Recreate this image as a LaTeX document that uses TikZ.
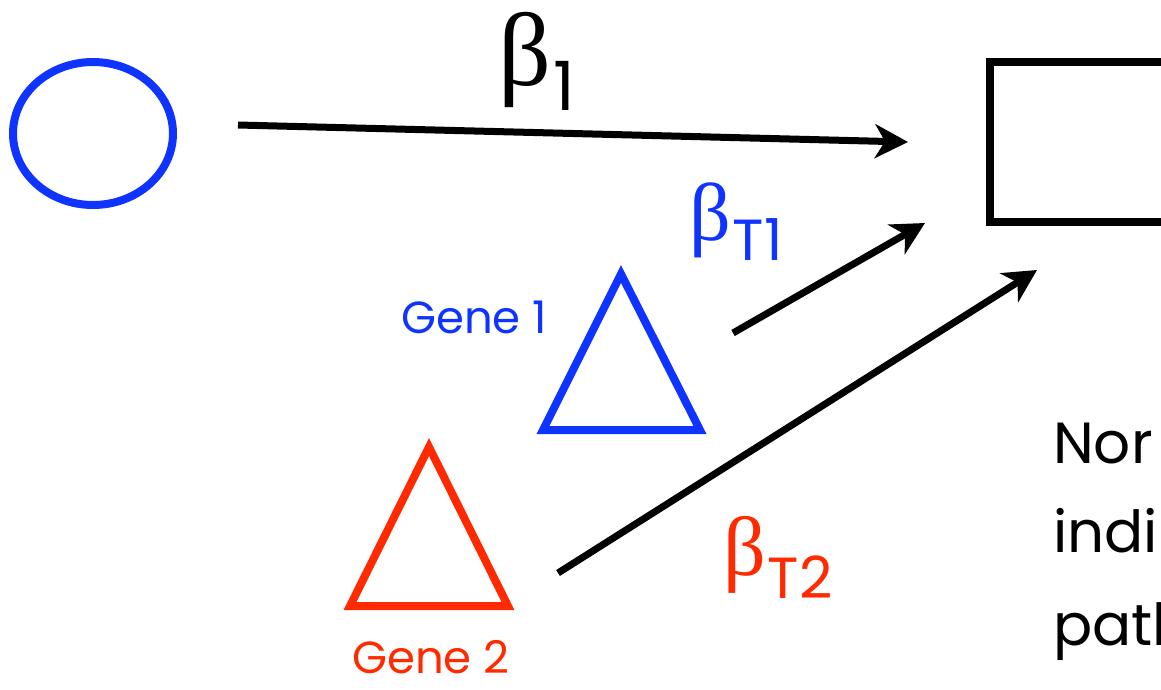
\documentclass[tikz,border=0pt]{standalone}
\usepackage{fontspec}
\setmainfont{Poppins}
\newfontfamily\grk{Liberation Serif}
\usetikzlibrary{arrows.meta}
\definecolor{gblue}{RGB}{16,52,255}
\definecolor{gred}{RGB}{255,42,0}
\tikzset{
  conn/.style={line width=7pt, -{Stealth[length=33pt,width=34pt,inset=10pt]}},
  shapeline/.style={line width=8pt, miter limit=10},
  lbl/.style={inner sep=0pt, anchor=base west},
}
\newcommand{\bsub}[4]{{\grk\fontsize{#1}{#1}\selectfont β}\kern 2pt\raisebox{-#3pt}{\fontsize{#2}{#2}\selectfont #4}}
\begin{document}
\begin{tikzpicture}[x=1pt,y=-1pt]
\useasboundingbox (0,0) rectangle (1161,689);
\clip (0,0) rectangle (1161,689);
% shapes
\draw[gblue, shapeline] (93,133.5) ellipse [x radius=80, y radius=71.5];
\node (circ) at (93,133.5) {};
\draw[shapeline, line width=8pt] (989.5,62) rectangle (1250,222);
\node (rect) at (1070,142) {};
\draw[gblue, shapeline] (621,274) -- (543,430) -- (700,430) -- cycle;
\node (tri1) at (621,380) {};
\draw[gred, shapeline] (429,447) -- (350,606) -- (508,606) -- cycle;
\node (tri2) at (429,555) {};
% connector ends
\coordinate (a1s) at (238,125);
\coordinate (a1e) at (908,142);
\coordinate (a2s) at (733,333);
\coordinate (a2e) at (925,223);
\coordinate (a3s) at (558,573);
\coordinate (a3e) at (1037,270);
\draw[conn] (a1s) -- (a1e);
\draw[conn] (a2s) -- (a2e);
\draw[conn] (a3s) -- (a3e);
% labels
\node[lbl] (b1) at (498,85) {\bsub{104}{68}{25}{1}};
\node[lbl, text=gblue] (bt1) at (689,240) {\bsub{82}{58}{20}{T1}};
\node[lbl, text=gred] (bt2) at (723,575) {\bsub{84}{58}{23}{T2}};
\node[lbl, text=gblue, font=\fontsize{45}{45}\selectfont] (g1) at (401,333) {Gene 1};
\node[lbl, text=gred, font=\fontsize{45}{45}\selectfont] (g2) at (352,673) {Gene 2};
\node[lbl, font=\fontsize{58}{58}\selectfont] (t1) at (1053,463) {Nor};
\node[lbl, font=\fontsize{58}{58}\selectfont] (t2) at (1053,552) {indi};
\node[lbl, font=\fontsize{58}{58}\selectfont] (t3) at (1053,645) {path};
\end{tikzpicture}
\end{document}
